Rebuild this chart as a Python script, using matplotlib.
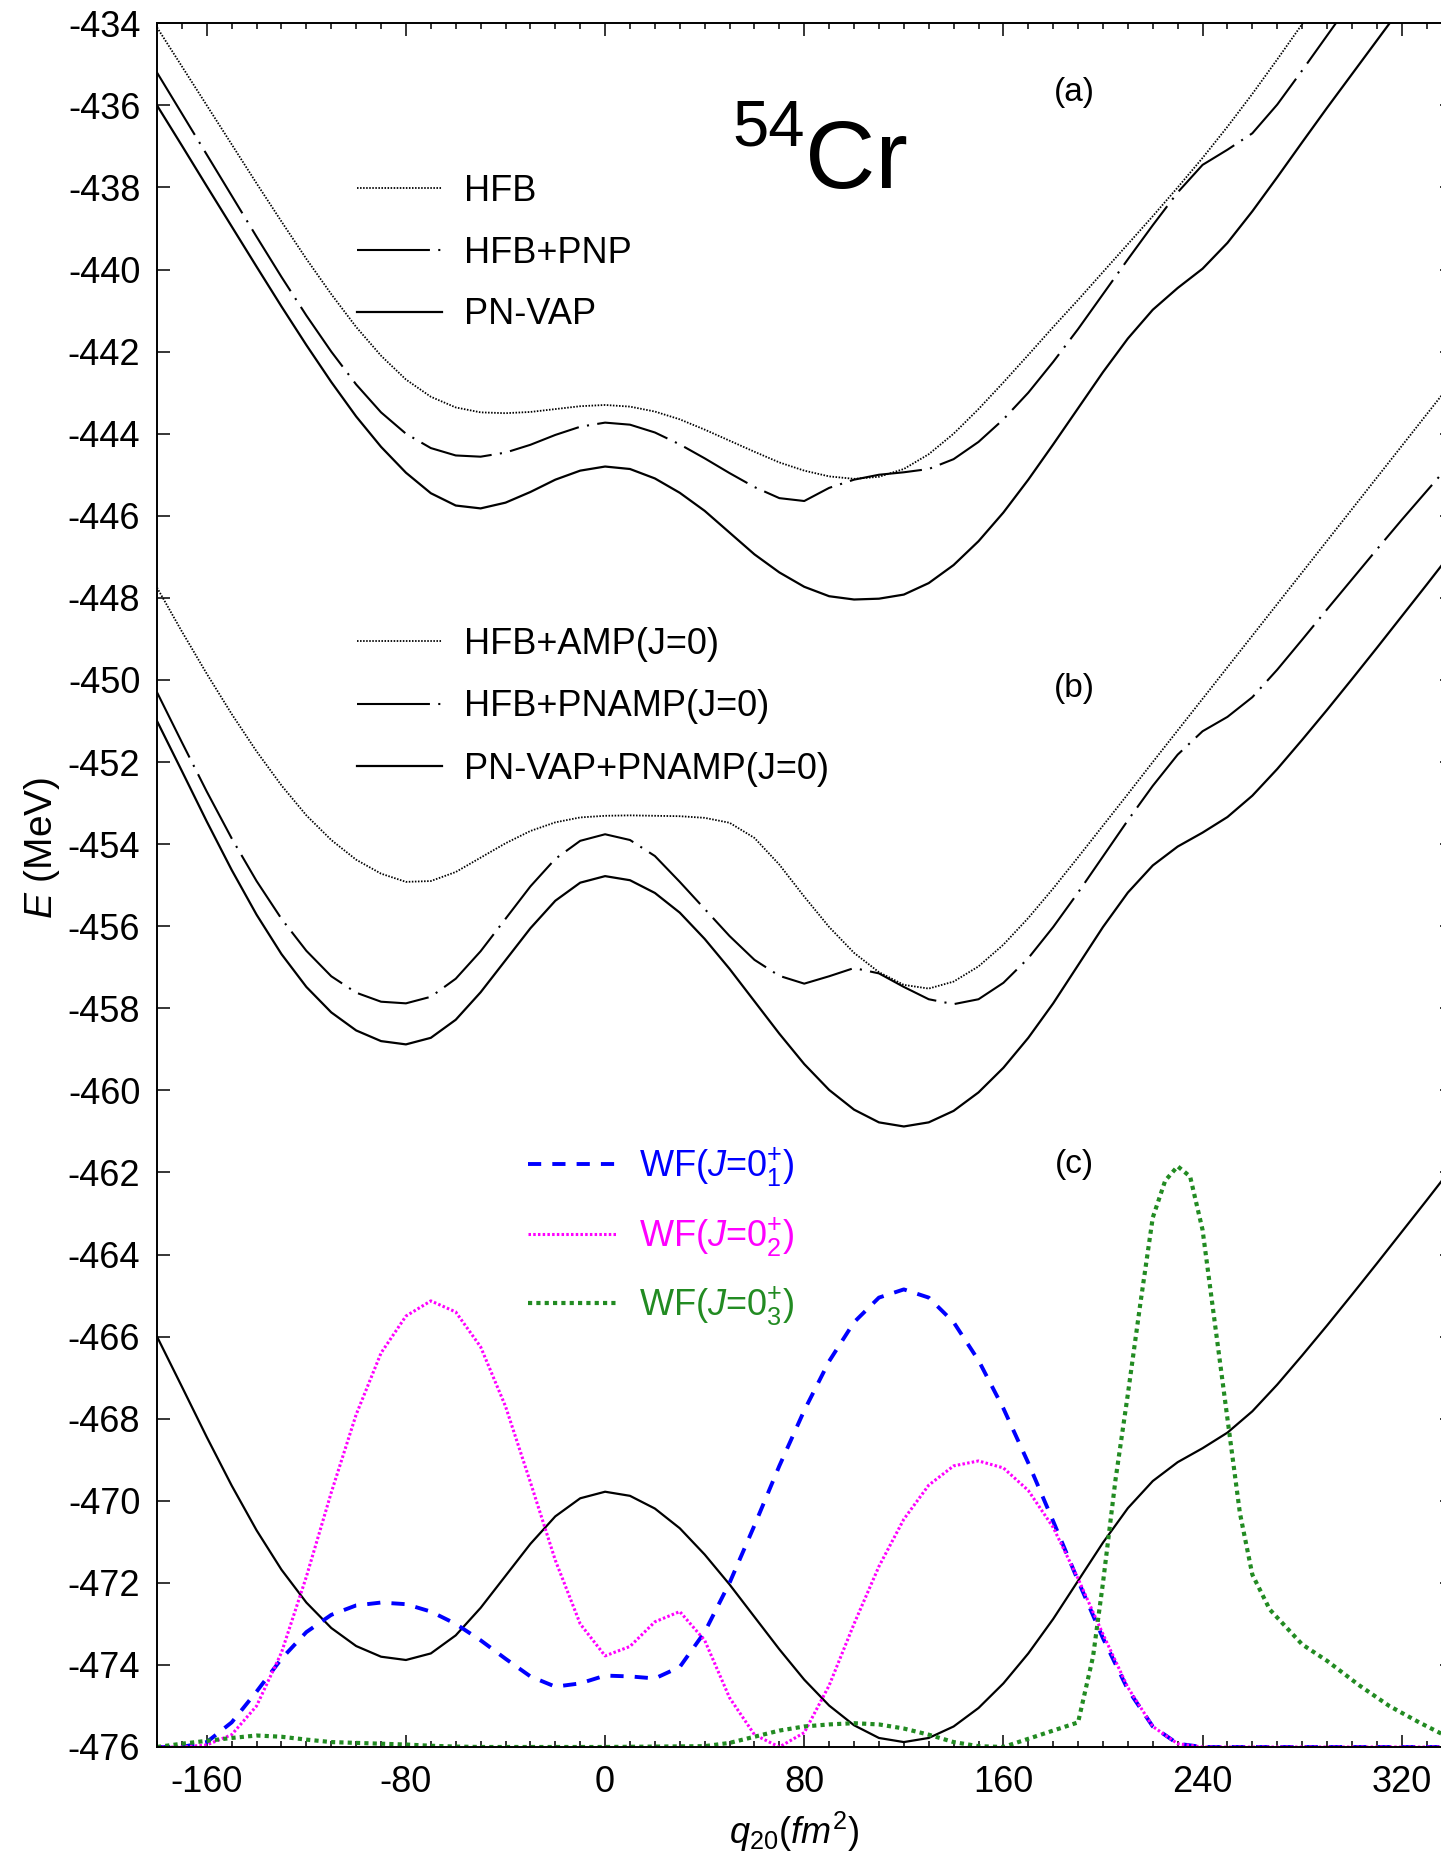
import numpy as np
import matplotlib
matplotlib.use("Agg")
import matplotlib.pyplot as plt
from matplotlib.ticker import MultipleLocator

plt.rcParams['font.family'] = ['Liberation Sans', 'DejaVu Sans']
plt.rcParams['mathtext.fontset'] = 'custom'
plt.rcParams['mathtext.rm'] = 'Liberation Sans'
plt.rcParams['mathtext.it'] = 'Liberation Sans:italic'
plt.rcParams['mathtext.bf'] = 'Liberation Sans:bold'
plt.rcParams['axes.unicode_minus'] = False
plt.rcParams['lines.scale_dashes'] = False

nan = np.nan

# Quadrupole deformation grid (fm^2), -180 ... 340 in steps of 10
q20 = list(range(-180, 350, 10))

# (a) mean-field energy curves (MeV)
e_hfb = [-434.10, -435.05, -436.00, -436.95, -437.90, -438.83, -439.74, -440.60, -441.40, -442.10,
         -442.68, -443.10, -443.36, -443.48, -443.50, -443.47, -443.40, -443.33, -443.30, -443.34,
         -443.46, -443.65, -443.90, -444.17, -444.44, -444.70, -444.90, -445.04, -445.10, -445.05,
         -444.86, -444.50, -444.00, -443.40, -442.75, -442.08, -441.40, -440.74, -440.06, -439.38,
         -438.70, -438.00, -437.28, -436.52, -435.72, -434.88, -434.02, -433.15, nan, nan,
         nan, nan, nan]
e_hfb_pnp = [-435.20, -436.20, -437.20, -438.20, -439.20, -440.18, -441.12, -442.00, -442.80, -443.48,
             -444.00, -444.35, -444.53, -444.56, -444.46, -444.27, -444.03, -443.83, -443.73, -443.78,
             -443.97, -444.26, -444.60, -444.96, -445.30, -445.57, -445.64, -445.32, -445.12, -445.00,
             -444.94, -444.86, -444.62, -444.20, -443.65, -443.00, -442.25, -441.45, -440.60, -439.75,
             -438.92, -438.12, -437.45, -437.08, -436.68, -435.98, -435.15, -434.30, -433.45, nan,
             nan, nan, nan]
e_pnvap = [-436.00, -436.98, -437.97, -438.95, -439.93, -440.90, -441.84, -442.74, -443.58, -444.32,
           -444.95, -445.45, -445.75, -445.82, -445.68, -445.42, -445.12, -444.90, -444.80, -444.86,
           -445.09, -445.44, -445.88, -446.41, -446.94, -447.38, -447.73, -447.96, -448.04, -448.02,
           -447.92, -447.64, -447.20, -446.62, -445.92, -445.12, -444.26, -443.38, -442.50, -441.68,
           -440.98, -440.45, -439.98, -439.35, -438.58, -437.75, -436.90, -436.06, -435.24, -434.42,
           -433.60, nan, nan]

# (b) angular-momentum projected energy curves, J=0 (MeV)
e_hfb_amp = [-447.75, -448.82, -449.85, -450.83, -451.74, -452.57, -453.30, -453.90, -454.38, -454.72,
             -454.92, -454.90, -454.68, -454.33, -453.98, -453.68, -453.47, -453.35, -453.31, -453.30,
             -453.31, -453.32, -453.36, -453.48, -453.85, -454.50, -455.28, -456.02, -456.65, -457.12,
             -457.43, -457.52, -457.35, -456.98, -456.45, -455.80, -455.08, -454.32, -453.55, -452.78,
             -452.00, -451.23, -450.46, -449.69, -448.92, -448.15, -447.38, -446.61, -445.84, -445.07,
             -444.30, -443.53, -442.76]
e_hfb_pnamp = [-450.30, -451.52, -452.72, -453.86, -454.90, -455.82, -456.60, -457.22, -457.62, -457.84,
               -457.88, -457.72, -457.28, -456.61, -455.82, -455.03, -454.36, -453.92, -453.76, -453.90,
               -454.29, -454.92, -455.58, -456.24, -456.82, -457.21, -457.40, -457.22, -457.02, -457.15,
               -457.48, -457.78, -457.90, -457.78, -457.38, -456.78, -456.02, -455.18, -454.30, -453.42,
               -452.58, -451.82, -451.25, -450.90, -450.42, -449.75, -449.02, -448.28, -447.55, -446.82,
               -446.10, -445.40, -444.70]
e_pnvap_pnamp = [-451.00, -452.22, -453.45, -454.63, -455.72, -456.68, -457.48, -458.10, -458.54, -458.80,
                 -458.88, -458.72, -458.28, -457.61, -456.83, -456.05, -455.38, -454.94, -454.78, -454.88,
                 -455.19, -455.67, -456.31, -457.04, -457.83, -458.62, -459.36, -459.99, -460.47, -460.78,
                 -460.88, -460.78, -460.50, -460.05, -459.45, -458.72, -457.88, -456.95, -456.02, -455.18,
                 -454.52, -454.06, -453.72, -453.34, -452.82, -452.17, -451.46, -450.73, -449.98, -449.22,
                 -448.45, -447.68, -446.90]

# (c) the PN-VAP+PNAMP curve is repeated 15 MeV lower under the wave functions
panel_c_shift = -15.0
wf_baseline = -476.0

# (c) collective wave functions (height above the baseline, MeV scale)
wf1 = [0.0, 0.0, 0.12, 0.6, 1.35, 2.15, 2.8, 3.22, 3.45, 3.52,
       3.48, 3.3, 3.0, 2.6, 2.15, 1.72, 1.47, 1.55, 1.74, 1.72,
       1.67, 1.95, 2.8, 4.0, 5.4, 6.85, 8.2, 9.4, 10.35, 10.95,
       11.15, 10.95, 10.35, 9.42, 8.25, 6.92, 5.5, 4.05, 2.65, 1.4,
       0.5, 0.08, 0.0, 0.0, 0.0, 0.0, 0.0, 0.0, 0.0, 0.0,
       0.0, 0.0, 0.0]
wf2 = [0.0, 0.0, 0.05, 0.3, 1.0, 2.3, 4.15, 6.2, 8.1, 9.6,
       10.5, 10.87, 10.6, 9.75, 8.3, 6.45, 4.55, 3.0, 2.22, 2.45,
       3.05, 3.3, 2.6, 1.2, 0.3, 0.0, 0.35, 1.5, 3.0, 4.4,
       5.55, 6.38, 6.85, 6.97, 6.8, 6.25, 5.35, 4.1, 2.75, 1.45,
       0.5, 0.08, 0.0, 0.0, 0.0, 0.0, 0.0, 0.0, 0.0, 0.0,
       0.0, 0.0, 0.0]
q20_wf3 = [-180, -170, -160, -150, -140, -130, -120, -110, -100, -90, -80, -70, -60, -50,
           0, 40, 50, 60, 70, 80, 90, 100, 110, 120, 130, 140, 150, 160, 170, 180, 190,
           196, 200, 205, 210, 215, 220, 225, 230, 235, 240, 245, 250, 255, 260, 267, 280,
           290, 303, 315, 327, 340]
wf3 = [0.0, 0.08, 0.15, 0.22, 0.28, 0.25, 0.18, 0.12, 0.1, 0.08, 0.06, 0.03, 0.01, 0.0,
       0.0, 0.02, 0.1, 0.25, 0.4, 0.5, 0.55, 0.58, 0.55, 0.45, 0.3, 0.12, 0.02, 0.0, 0.2, 0.4, 0.6,
       2.2, 4.0, 6.5, 8.6, 10.8, 12.9, 13.8, 14.15, 13.9, 12.6, 10.3, 8.0, 5.7, 4.2, 3.35, 2.5,
       2.1, 1.5, 1.0, 0.6, 0.2]

labels_a = ['HFB', 'HFB+PNP', 'PN-VAP']
labels_b = ['HFB+AMP(J=0)', 'HFB+PNAMP(J=0)', 'PN-VAP+PNAMP(J=0)']
labels_c = [r'WF($J$=$0^{+}_{1}$)', r'WF($J$=$0^{+}_{2}$)', r'WF($J$=$0^{+}_{3}$)']

W, H = 1441, 1853
fig = plt.figure(figsize=(W / 100, H / 100), dpi=100)


def fx(px):
    return px / W


def fy(py):
    return 1 - py / H


ax = fig.add_axes([fx(157), fy(1747), fx(1451.5) - fx(157), fy(23.3) - fy(1747)])

dotted = dict(color='black', lw=1.3, linestyle=(0, (1.1, 1.1)))
dashdot = dict(color='black', lw=1.5, linestyle=(0, (52.5, 6.0, 1.5, 6.0)))
solid = dict(color='black', lw=1.6, linestyle='-')

q = np.array(q20, dtype=float)
la = [ax.plot(q, e_hfb, **dotted)[0],
      ax.plot(q, e_hfb_pnp, **dashdot)[0],
      ax.plot(q, e_pnvap, **solid)[0]]
lb = [ax.plot(q, e_hfb_amp, **dotted)[0],
      ax.plot(q, e_hfb_pnamp, **dashdot)[0],
      ax.plot(q, e_pnvap_pnamp, **solid)[0]]
ax.plot(q, np.array(e_pnvap_pnamp) + panel_c_shift, **solid)

lc = [ax.plot(q, np.array(wf1) + wf_baseline, color='#0000FF', lw=2.8,
              linestyle=(0, (9.5, 8.0)))[0],
      ax.plot(q, np.array(wf2) + wf_baseline, color='#FF00FF', lw=2.2,
              linestyle=(0, (1.8, 1.6)))[0],
      ax.plot(q20_wf3, np.array(wf3) + wf_baseline, color='#228B22', lw=3.0,
              linestyle=(0, (3.0, 3.0)))[0]]

ax.set_xlim(-180, 340)
ax.set_ylim(-476, -434)
ax.xaxis.set_major_locator(MultipleLocator(80))
ax.xaxis.set_minor_locator(MultipleLocator(10))
ax.yaxis.set_major_locator(MultipleLocator(2))
ax.tick_params(which='both', direction='in', top=True, right=True, width=1.1)
ax.tick_params(which='major', length=9)
ax.tick_params(which='minor', length=4.5)
ax.tick_params(axis='x', labelsize=26, pad=13)
ax.tick_params(axis='y', labelsize=26, pad=12)
for s in ax.spines.values():
    s.set_linewidth(1.4)

leg_kw = dict(frameon=False, loc='upper left', borderaxespad=0, borderpad=0,
              handletextpad=0.62, fontsize=26)
leg_a = ax.legend(la, labels_a, bbox_to_anchor=(fx(357), fy(174)), bbox_transform=fig.transFigure,
                  handlelength=2.35, labelspacing=0.74, **leg_kw)
ax.add_artist(leg_a)
leg_b = ax.legend(lb, labels_b, bbox_to_anchor=(fx(357), fy(627)), bbox_transform=fig.transFigure,
                  handlelength=2.35, labelspacing=0.76, **leg_kw)
ax.add_artist(leg_b)
leg_c = ax.legend(lc, labels_c, bbox_to_anchor=(fx(528), fy(1146)), bbox_transform=fig.transFigure,
                  handlelength=2.45, labelspacing=0.72, labelcolor='linecolor', **leg_kw)

for lab, py in (('(a)', 93), ('(b)', 689), ('(c)', 1164)):
    fig.text(fx(1074), fy(py), lab, fontsize=24, ha='center', va='center')

fig.text(fx(732), fy(145), '54', fontsize=47, ha='left', va='baseline')
fig.text(fx(805), fy(188), 'Cr', fontsize=70, ha='left', va='baseline')

fig.text(fx(42), fy(848), r'$E$ (MeV)', fontsize=28, rotation=90, ha='center', va='center')
fig.text(fx(794), fy(1832), r'$q_{20}$($fm^{2}$)', fontsize=26, ha='center', va='center')

fig.savefig('out.png', dpi=100)
